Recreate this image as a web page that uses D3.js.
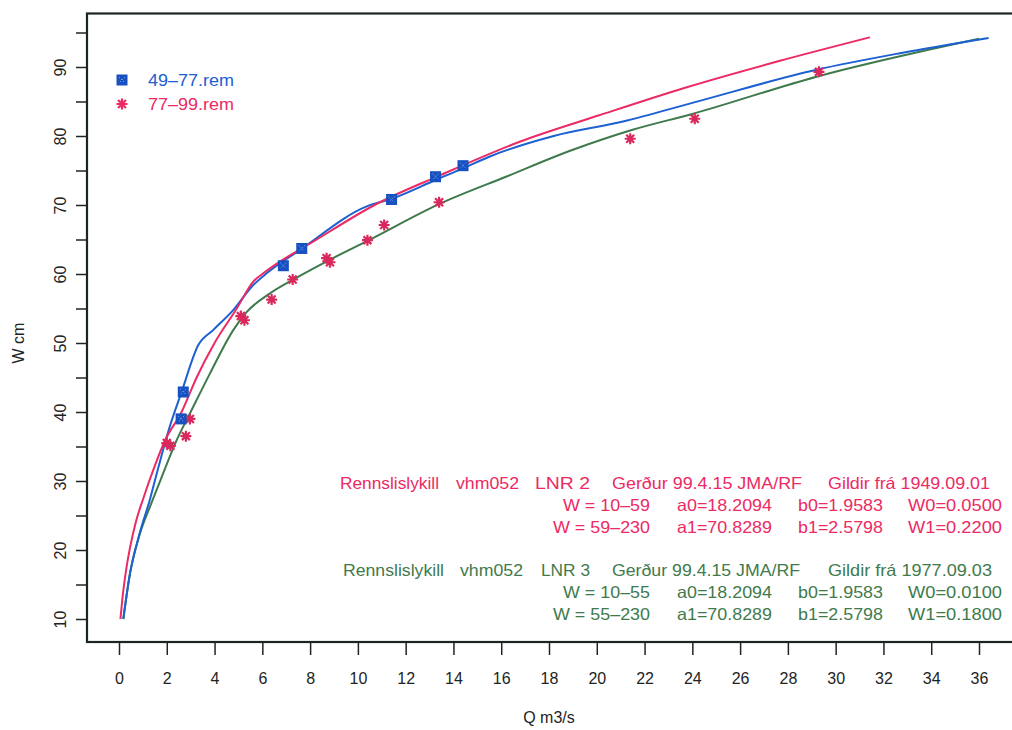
<!DOCTYPE html>
<html>
<head>
<meta charset="utf-8">
<script src="https://cdn.jsdelivr.net/npm/d3@7"></script>
<style>
  html, body { margin: 0; padding: 0; background: #fff; }
  svg { display: block; font-family: "Liberation Sans", Arial, sans-serif; }
</style>
</head>
<body>
<svg id="chart" width="1012" height="730"></svg>
<script>
// ---------- data ----------
const xTickValues = d3.range(0, 37, 2);
const yTickValues = d3.range(10, 96, 5);

// observed points, series 49-77.rem  [Q m3/s, W cm]
const pts4977 = [[2.6, 39.0], [2.69, 42.9], [6.88, 61.2], [7.65, 63.7], [11.41, 70.8], [13.25, 74.1], [14.4, 75.7]];
// observed points, series 77-99.rem
const pts7799 = [[2.0, 35.5], [2.15, 35.1], [2.8, 36.5], [2.97, 39.0], [5.1, 53.9], [5.25, 53.3], [6.39, 56.3],
                 [7.27, 59.2], [8.69, 62.3], [8.83, 61.7], [10.4, 64.9], [11.1, 67.1], [13.4, 70.4],
                 [21.4, 79.6], [24.1, 82.5], [29.3, 89.3]];

// rating curve LNR 2 (pink)
const curveLNR2 = [[0.06, 10], [0.15, 13.2], [0.32, 17.6], [0.5, 21.0], [0.7, 24.0], [1.02, 27.5], [1.51, 32.3],
                   [1.93, 35.9], [2.62, 40], [3.25, 45], [4.0, 50], [4.93, 55], [5.62, 58.9], [6.04, 60.1],
                   [8.28, 65], [10.7, 70], [13.44, 74.3], [16.8, 79.2], [20.1, 83.0], [23.7, 87.0],
                   [27.67, 90.9], [31.43, 94.3]];
// curve fitted to 49-77 (blue)
const curve4977 = [[0.18, 10], [0.46, 16.6], [0.8, 21.6], [1.3, 27.4], [1.65, 32.0], [2.1, 37.6],
                   [2.62, 42.9], [3.32, 49.7], [3.95, 51.9], [4.79, 54.8], [5.62, 58.4], [6.18, 60.1],
                   [7.58, 63.5], [10.37, 69.8], [11.41, 70.9], [13.3, 73.7], [14.4, 75.3], [15.5, 77.0],
                   [18.2, 80.0], [21.1, 82.1], [24.0, 84.8], [29.2, 89.6], [32.7, 92.0], [36.4, 94.2]];
// rating curve LNR 3 (green)
const curveLNR3 = [[0.18, 10], [0.46, 16.6], [0.88, 22.4], [1.3, 26.3], [1.79, 30.6], [2.41, 35.9], [2.97, 39.8],
                   [3.81, 45.6], [4.79, 51.9], [5.35, 54.5], [6.32, 57.2], [7.4, 59.4], [8.9, 62.2],
                   [10.4, 64.8], [13.44, 70.2], [16.2, 74.1], [19.0, 78.0], [21.5, 80.9], [24.0, 83.2],
                   [29.2, 88.6], [36.0, 94.1]];

const legendLabels = ["49\u201377.rem", "77\u201399.rem"];

const noteLNR2 = {
  head: ["Rennslislykill", "vhm052", "LNR  2", "Ger\u00f0ur 99.4.15 JMA/RF", "Gildir fr\u00e1 1949.09.01"],
  row1: ["W = 10\u201359", "a0=18.2094", "b0=1.9583", "W0=0.0500"],
  row2: ["W = 59\u2013230", "a1=70.8289", "b1=2.5798", "W1=0.2200"]
};
const noteLNR3 = {
  head: ["Rennslislykill", "vhm052", "LNR 3", "Ger\u00f0ur 99.4.15 JMA/RF", "Gildir fr\u00e1 1977.09.03"],
  row1: ["W = 10\u201355", "a0=18.2094", "b0=1.9583", "W0=0.0100"],
  row2: ["W = 55\u2013230", "a1=70.8289", "b1=2.5798", "W1=0.1800"]
};

// ---------- styling / layout ----------
const BLUE = "#1c60d2", PINK = "#ec2a63", GREEN = "#3f7a4c", INK = "#1d2424";
const PTBLUE = "#1750c0", PTPINK = "#d9285c";

const svg = d3.select("#chart");
const x = d3.scaleLinear().domain([0, 36]).range([119, 979]);
const y = d3.scaleLinear().domain([10, 90]).range([619, 67]);

// frame (right edge runs off the page like the scan)
svg.append("rect")
  .attr("x", 87).attr("y", 13.5).attr("width", 960).attr("height", 628.5)
  .attr("fill", "none").attr("stroke", INK).attr("stroke-width", 2.2);

// axes
const yAxis = d3.axisLeft(y).tickValues(yTickValues).tickSize(11)
  .tickFormat(d => d % 10 === 0 ? d : "");
const gy = svg.append("g").attr("transform", "translate(87,0)").call(yAxis);
gy.select(".domain").remove();
gy.selectAll("line").attr("stroke", INK).attr("stroke-width", 1.5);
gy.selectAll("text")
  .attr("x", 0).attr("y", 0).attr("dy", "0.35em")
  .attr("transform", "translate(-27,0) rotate(-90)")
  .attr("text-anchor", "middle")
  .attr("fill", INK).style("font-size", "16px");

const xAxis = d3.axisBottom(x).tickValues(xTickValues).tickSize(12);
const gx = svg.append("g").attr("transform", "translate(0,643)").call(xAxis);
gx.select(".domain").remove();
gx.selectAll("line").attr("stroke", INK).attr("stroke-width", 1.5);
gx.selectAll("text").attr("y", 35).attr("dy", "0.35em")
  .attr("fill", INK).style("font-size", "16px");

svg.append("text").attr("x", 549).attr("y", 717).attr("dy", "0.35em")
  .attr("text-anchor", "middle").attr("fill", INK).style("font-size", "16px").text("Q m3/s");
svg.append("text").attr("transform", "translate(18,343) rotate(-90)").attr("dy", "0.35em")
  .attr("text-anchor", "middle").attr("fill", INK).style("font-size", "16px").text("W cm");

// curves
const line = d3.line().x(d => x(d[0])).y(d => y(d[1])).curve(d3.curveMonotoneX);
[[curveLNR3, GREEN], [curve4977, BLUE], [curveLNR2, PINK]].forEach(([data, col]) => {
  svg.append("path").datum(data).attr("d", line)
    .attr("fill", "none").attr("stroke", col).attr("stroke-width", 2).attr("stroke-linejoin", "round");
});

// markers
function squareMark(g, cx, cy) {
  g.append("rect").attr("x", cx - 5.5).attr("y", cy - 5.5).attr("width", 11).attr("height", 11)
    .attr("fill", PTBLUE);
  g.append("path").attr("d", `M${cx - 3},${cy - 3}L${cx + 3},${cy + 3}M${cx + 3},${cy - 3}L${cx - 3},${cy + 3}`)
    .attr("stroke", "#9fc0f0").attr("stroke-width", 0.8).attr("stroke-dasharray", "1.2,1.6");
}
function starMark(g, cx, cy, col) {
  const r = 5.5, d = r * 0.72;
  g.append("path")
    .attr("d", `M${cx - r},${cy}L${cx + r},${cy}M${cx},${cy - r}L${cx},${cy + r}` +
               `M${cx - d},${cy - d}L${cx + d},${cy + d}M${cx + d},${cy - d}L${cx - d},${cy + d}`)
    .attr("stroke", col).attr("stroke-width", 2.2);
}

const gp = svg.append("g");
pts7799.forEach(p => starMark(gp, x(p[0]), y(p[1]), PTPINK));
pts4977.forEach(p => squareMark(gp, x(p[0]), y(p[1])));

// legend
const gl = svg.append("g");
squareMark(gl, 122, 80);
starMark(gl, 122, 104, PINK);
gl.append("text").attr("x", 148).attr("y", 80).attr("dy", "0.35em").attr("fill", BLUE)
  .style("font-size", "17px").attr("textLength", 86).attr("lengthAdjust", "spacingAndGlyphs").text(legendLabels[0]);
gl.append("text").attr("x", 148).attr("y", 104).attr("dy", "0.35em").attr("fill", PINK)
  .style("font-size", "17px").attr("textLength", 86).attr("lengthAdjust", "spacingAndGlyphs").text(legendLabels[1]);

// annotation blocks: [start x, width] per piece
const headPos2 = [[340, 99], [456, 63], [535, 55], [612, 190], [828, 162]];
const headPos3 = [[343, 101], [460, 63], [541, 49], [612, 188], [828, 164]];
const colEnd = [650, 772, 883, 1002];
const rowW2 = [[87, 95, 85, 94], [97, 95, 85, 94]];
const rowW3 = [[87, 95, 85, 94], [97, 95, 85, 94]];
function note(block, col, y0, headPos, rowW) {
  const g = svg.append("g").attr("fill", col).style("font-size", "16.5px");
  block.head.forEach((t, i) => g.append("text").attr("x", headPos[i][0]).attr("y", y0).attr("dy", "0.35em")
    .attr("textLength", headPos[i][1]).attr("lengthAdjust", "spacingAndGlyphs").text(t));
  [block.row1, block.row2].forEach((row, r) => {
    row.forEach((t, i) => g.append("text").attr("x", colEnd[i] - rowW[r][i]).attr("y", y0 + 22 * (r + 1))
      .attr("dy", "0.35em").attr("textLength", rowW[r][i]).attr("lengthAdjust", "spacingAndGlyphs").text(t));
  });
}
note(noteLNR2, PINK, 483, headPos2, rowW2);
note(noteLNR3, GREEN, 570, headPos3, rowW3);
</script>
</body>
</html>
